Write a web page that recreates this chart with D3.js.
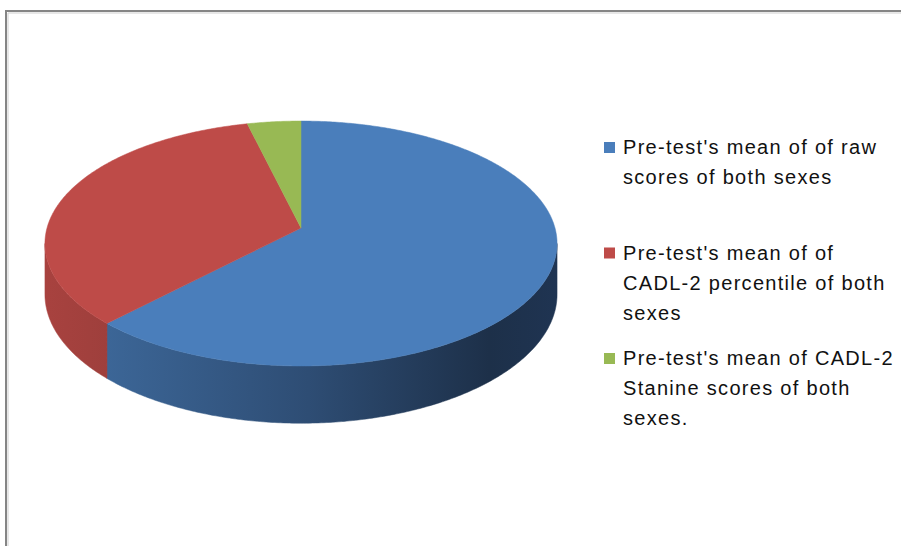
<!DOCTYPE html>
<html>
<head>
<meta charset="utf-8">
<script src="https://cdn.jsdelivr.net/npm/d3@7"></script>
<style>
  body { margin: 0; background: #fff; }
  svg { display: block; }
</style>
</head>
<body>
<svg width="901" height="546"></svg>
<script>
var svg = d3.select("svg"),
    width = +svg.attr("width"),
    height = +svg.attr("height");

// data
var categories = [
    "Pre-test's mean of of raw scores of both sexes",
    "Pre-test's mean of of CADL-2 percentile of both sexes",
    "Pre-test's mean of CADL-2 Stanine scores of both sexes."
];
var legendLines = [
    ["Pre-test's mean of of raw", "scores of both sexes"],
    ["Pre-test's mean of of", "CADL-2 percentile of both", "sexes"],
    ["Pre-test's mean of CADL-2", "Stanine scores of both", "sexes."]
];
var values = [32.6, 17.8, 2.0];

var topColors = ["#4a7ebb", "#be4b48", "#98b954"];

// frame
svg.append("path")
    .attr("d", "M6,546V11H901")
    .attr("fill", "none")
    .attr("stroke", "#858585")
    .attr("stroke-width", 2);
svg.append("path")
    .attr("d", "M8,546V13H901")
    .attr("fill", "none")
    .attr("stroke", "#cfcfcf")
    .attr("stroke-width", 1);

// perspective of the 3d pie
var cx = 301, cy = 228,
    A = 254, B = 120.5, s = 0.1266,
    depth = 50;

function proj(a, h) {
    var u = Math.sin(a), v = -Math.cos(a);
    var w = 1 - s * v;
    return [cx + A * u / w, cy + (B * v + h) / w];
}

function arcPts(a0, a1, h) {
    var n = Math.max(2, Math.ceil((a1 - a0) / 0.01));
    return d3.range(n + 1).map(function(i) {
        return proj(a0 + (a1 - a0) * i / n, h);
    });
}

var pie = d3.pie().sort(null).value(function(d) { return d; });
var arcs = pie(values);

var line = d3.line();

var defs = svg.append("defs");
var grad = defs.append("linearGradient")
    .attr("id", "blueSide")
    .attr("gradientUnits", "userSpaceOnUse")
    .attr("x1", 105).attr("x2", 557).attr("y1", 0).attr("y2", 0);
grad.append("stop").attr("offset", 0).attr("stop-color", "#3c6697");
grad.append("stop").attr("offset", 0.45).attr("stop-color", "#2e4d74");
grad.append("stop").attr("offset", 0.85).attr("stop-color", "#1d3049");
grad.append("stop").attr("offset", 1).attr("stop-color", "#1f3452");

var redGrad = defs.append("linearGradient")
    .attr("id", "redSide")
    .attr("gradientUnits", "userSpaceOnUse")
    .attr("x1", 45).attr("x2", 110).attr("y1", 0).attr("y2", 0);
redGrad.append("stop").attr("offset", 0).attr("stop-color", "#a8423f");
redGrad.append("stop").attr("offset", 1).attr("stop-color", "#9e3f3c");

var sideFill = ["url(#blueSide)", "url(#redSide)", "#7a9444"];

// visible front of the rim, between the two silhouette points
var visA0 = Math.acos(-s),
    visA1 = 2 * Math.PI - Math.acos(-s);

var sides = svg.append("g").attr("class", "sides");
arcs.forEach(function(d, i) {
    var a0 = Math.max(d.startAngle, visA0),
        a1 = Math.min(d.endAngle, visA1);
    if (a1 <= a0) return;
    var pts = arcPts(a0, a1, 0).concat(arcPts(a0, a1, depth).reverse());
    sides.append("path")
        .attr("d", line(pts) + "Z")
        .attr("fill", sideFill[i])
        .attr("stroke", sideFill[i])
        .attr("stroke-width", 0.5);
});

var tops = svg.append("g").attr("class", "tops");
arcs.forEach(function(d, i) {
    var pts = [[cx, cy]].concat(arcPts(d.startAngle, d.endAngle, 0));
    tops.append("path")
        .attr("d", line(pts) + "Z")
        .attr("fill", topColors[i])
        .attr("stroke", topColors[i])
        .attr("stroke-width", 0.5);
});

// legend
var legend = svg.append("g")
    .attr("class", "legend")
    .attr("font-family", "'Liberation Sans', Arial, sans-serif")
    .attr("font-size", 20)
    .attr("letter-spacing", "1.3px")
    .attr("fill", "#111");

var entryY = d3.scalePoint()
    .domain(d3.range(categories.length))
    .range([147, 358]);

legendLines.forEach(function(lines, i) {
    var y0 = entryY(i);
    legend.append("rect")
        .attr("x", 604)
        .attr("y", y0 - 5)
        .attr("width", 11)
        .attr("height", 11)
        .attr("fill", topColors[i]);
    var t = legend.append("text")
        .attr("x", 623)
        .attr("y", y0 + 7);
    lines.forEach(function(l, j) {
        t.append("tspan")
            .attr("x", 623)
            .attr("dy", j === 0 ? 0 : 30)
            .text(l);
    });
});
</script>
</body>
</html>
